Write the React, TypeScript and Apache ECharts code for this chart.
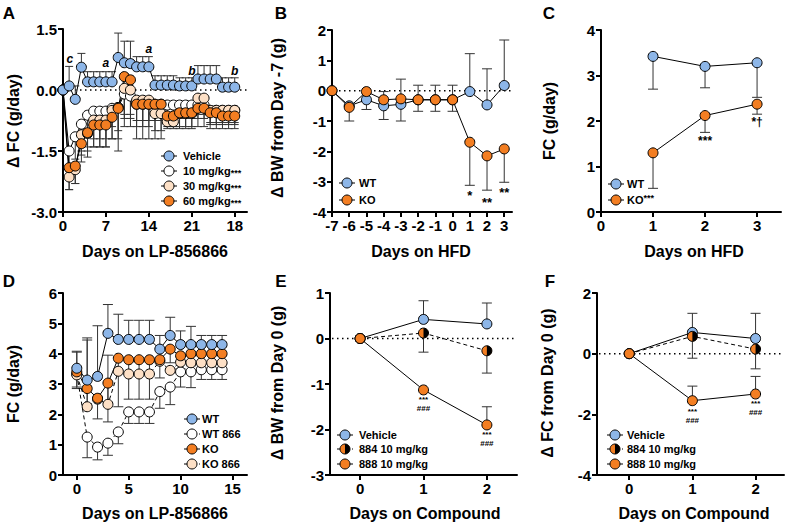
import React, { useEffect, useRef } from 'react';
import * as echarts from 'echarts';

const FONT = "'Liberation Sans', Arial, Helvetica, sans-serif";
const BLUE = '#8db6e8';
const ORANGE = '#f37e22';
const BEIGE = '#fde0c6';
const WHITE = '#ffffff';
const ERR = '#333333';

// ---------- Panel A ----------
const daysA = [0, 1, 2, 3, 4, 5, 6, 7, 8, 9, 10, 11, 12, 13, 14, 15, 16, 17, 18, 19, 20, 21, 22, 23, 24, 25, 26, 27, 28];
const ticksA = [0, 7, 14, 21, 28];
const tickLabelsA = ['0', '7', '14', '21', '18'];
const vehA = [0, 0.1, -0.23, 0.56, 0.2, 0.2, 0.2, 0.2, 0.2, 0.8, 0.67, 0.65, 0.57, 0.57, 0.57, 0.12, 0.12, 0.12, 0.12, 0.1, 0.1, 0.1, 0.27, 0.27, 0.27, 0.27, 0.07, 0.07, 0.07];
const vehAErr = [0, 0.58, 0.1, 0.9, 0.45, 0.45, 0.45, 0.45, 0.45, 1.4, 1.2, 1.2, 0.82, 0.82, 0.82, 0.35, 0.35, 0.35, 0.35, 0.3, 0.3, 0.3, 0.6, 0.6, 0.6, 0.6, 0.3, 0.3, 0.3];
const mg10A = [0, -1.5, -1.15, -0.84, -0.62, -0.52, -0.52, -0.52, -0.45, -0.43, -0.1, -0.15, -0.35, -0.35, -0.35, -0.35, -0.35, -0.37, -0.37, -0.37, -0.37, -0.37, -0.37, -0.37, -0.5, -0.5, -0.5, -0.5, -0.5];
const mg10AErr = [0, -2.0, -1.7, -1.5, -1.4, -1.4, -1.4, -1.4, -1.2, -1.2, -0.6, -0.6, -0.75, -0.75, -0.75, -0.75, -0.75, -0.7, -0.7, -0.7, -0.7, -0.7, -0.7, -0.7, -0.8, -0.8, -0.8, -0.8, -0.8];
const mg30A = [0, -2.14, -1.96, -1.1, -1.07, -0.74, -0.74, -0.74, -0.5, -0.43, 0.04, 0, -0.25, -0.25, -0.25, -0.58, -0.58, -0.78, -0.78, -0.58, -0.58, -0.58, -0.2, -0.2, -0.5, -0.5, -0.5, -0.5, -0.5];
const mg30AErr = [0, -2.45, -2.3, -1.6, -1.5, -1.2, -1.2, -1.2, -0.9, -1.0, -0.7, -0.7, -0.9, -0.9, -0.9, -1.0, -1.0, -0.9, -0.9, -0.9, -0.9, -0.9, -0.6, -0.6, -0.85, -0.85, -0.85, -0.85, -0.85];
const mg60A = [0, -1.91, -1.87, -1.32, -1.05, -0.86, -0.86, -0.86, -0.67, -0.45, 0.33, 0.25, -0.35, -0.35, -0.35, -0.35, -0.35, -0.64, -0.64, -0.56, -0.56, -0.56, -0.45, -0.45, -0.56, -0.56, -0.64, -0.64, -0.64];
const mg60AErr = [0, -2.45, -2.3, -1.77, -1.65, -1.4, -1.4, -1.4, -1.2, -1.5, -0.9, -0.9, -1.2, -1.2, -1.2, -1.2, -1.2, -0.95, -0.95, -0.95, -0.95, -0.95, -0.9, -0.9, -0.95, -0.95, -0.95, -0.95, -0.95];
const annA = [
  { x: 1.1, y: 0.77, t: 'c' },
  { x: 7, y: 0.67, t: 'a' },
  { x: 14, y: 1.0, t: 'a' },
  { x: 21, y: 0.47, t: 'b' },
  { x: 28, y: 0.47, t: 'b' },
];

// ---------- Panel B ----------
const daysB = [-7, -6, -5, -4, -3, -2, -1, 0, 1, 2, 3];
const wtB = [0, -0.5, -0.3, -0.5, -0.45, -0.3, -0.3, -0.3, -0.03, -0.47, 0.17];
const wtBErr = [0, -0.5, -0.3, -0.03, 0.38, 0.18, 0.18, 0.18, 1.22, 0.72, 1.67];
const koB = [0, -0.55, -0.03, -0.3, -0.27, -0.3, -0.3, -0.3, -1.7, -2.15, -1.92];
const koBErr = [0, -1.0, -0.62, -0.95, -1.0, -0.68, -0.68, -0.68, -3.12, -3.28, -3.02];
const annB = [
  { x: 1, y: -3.46, t: '*' },
  { x: 2, y: -3.69, t: '**' },
  { x: 3, y: -3.36, t: '**' },
];

// ---------- Panel C ----------
const daysC = [1, 2, 3];
const wtC = [3.42, 3.2, 3.28];
const wtCErr = [2.7, 2.73, 2.52];
const koC = [1.3, 2.12, 2.37];
const koCErr = [0.52, 1.75, 2.15];
const annC = [
  { x: 2, y: 1.56, t: '***' },
  { x: 3, y: 1.97, t: '*†' },
];

// ---------- Panel D ----------
const daysD = [0, 1, 2, 3, 4, 5, 6, 7, 8, 9, 10, 11, 12, 13, 14];
const wtD = [3.52, 3.13, 3.25, 4.67, 4.47, 4.47, 4.47, 4.47, 4.15, 4.6, 4.3, 4.3, 4.3, 4.3, 4.3];
const wtDErr = [4.08, 4.52, 4.92, 5.62, 5.3, 5.1, 5.1, 5.1, 4.6, 5.2, 4.75, 4.9, 4.6, 4.6, 4.6];
const wt866D = [3.33, 1.25, 0.92, 1.05, 1.42, 2.08, 2.08, 2.08, 2.75, 2.9, 3.4, 3.4, 3.47, 3.47, 3.47];
const wt866DErr = [2.85, 0.57, 0.5, 0.65, 1.03, 1.7, 1.7, 1.7, 2.2, 2.32, 2.9, 2.88, 3.15, 3.15, 3.15];
const koD = [3.4, 2.85, 2.53, 3.03, 3.85, 3.8, 3.8, 3.8, 3.8, 4.15, 3.93, 4.0, 4.0, 4.0, 4.0];
const koDErr = [2.9, 2.3, 1.85, 1.75, 2.25, 2.5, 2.5, 2.5, 3.2, 3.7, 3.5, 3.6, 3.7, 3.7, 3.7];
const ko866D = [3.3, 2.25, 2.5, 2.33, 3.42, 3.33, 3.33, 3.33, 3.75, 3.45, 3.72, 3.7, 3.7, 3.7, 3.7];
const ko866DErr = [4.05, 4.45, 2.5, 3.95, 3.42, 3.33, 3.33, 3.33, 3.75, 3.45, 3.72, 3.7, 3.7, 3.7, 3.7];

// ---------- Panel E ----------
const daysE = [0, 1, 2];
const vehE = [0, 0.42, 0.32];
const vehEErr = [0, 0.83, 0.78];
const c884E = [0, 0.12, -0.27];
const c884EErr = [0, -0.3, -0.76];
const c888E = [0, -1.13, -1.9];
const c888EErr = [0, -1.13, -1.5];
const annE = [
  { x: 1, y: -1.34, t: '***' },
  { x: 1, y: -1.54, t: '###' },
  { x: 2, y: -2.1, t: '***' },
  { x: 2, y: -2.3, t: '###' },
];

// ---------- Panel F ----------
const daysF = [0, 1, 2];
const vehF = [0, 0.7, 0.5];
const vehFErr = [0, 1.33, 1.33];
const c884F = [0, 0.57, 0.15];
const c884FErr = [0, -0.15, -0.5];
const c888F = [0, -1.55, -1.33];
const c888FErr = [0, -1.07, -0.75];
const annF = [
  { x: 1, y: -1.91, t: '***' },
  { x: 1, y: -2.21, t: '###' },
  { x: 2, y: -1.65, t: '***' },
  { x: 2, y: -1.95, t: '###' },
];

// ---------- helpers ----------
function lineS(gi: number, xs: number[], ys: number[], color: string, dashed = false, size = 10) {
  return {
    type: 'line',
    xAxisIndex: gi,
    yAxisIndex: gi,
    data: xs.map((x, i) => [x, ys[i]]),
    symbol: 'circle',
    symbolSize: size,
    showSymbol: true,
    showAllSymbol: true,
    lineStyle: { color: '#000', width: 1, type: dashed ? [4, 3] : 'solid' },
    itemStyle: { color, borderColor: '#000', borderWidth: 1, opacity: 1 },
    emphasis: { disabled: true },
    silent: true,
    z: 3,
  };
}

function errS(gi: number, xs: number[], ys: number[], ends: number[], cap = 4) {
  return {
    type: 'custom',
    xAxisIndex: gi,
    yAxisIndex: gi,
    coordinateSystem: 'cartesian2d',
    data: xs.map((x, i) => [x, ys[i], ends[i]]),
    silent: true,
    z: 1,
    renderItem: (params: any, api: any) => {
      const p = api.coord([api.value(0), api.value(1)]);
      const q = api.coord([api.value(0), api.value(2)]);
      if (Math.abs(p[1] - q[1]) < 0.5) return { type: 'group', children: [] };
      return {
        type: 'group',
        children: [
          { type: 'line', shape: { x1: p[0], y1: p[1], x2: q[0], y2: q[1] }, style: { stroke: ERR, lineWidth: 1 } },
          { type: 'line', shape: { x1: q[0] - cap, y1: q[1], x2: q[0] + cap, y2: q[1] }, style: { stroke: ERR, lineWidth: 1 } },
        ],
      };
    },
  };
}

function halfS(gi: number, xs: number[], ys: number[], r = 5) {
  return {
    type: 'custom',
    xAxisIndex: gi,
    yAxisIndex: gi,
    coordinateSystem: 'cartesian2d',
    data: xs.map((x, i) => [x, ys[i]]),
    silent: true,
    z: 4,
    renderItem: (params: any, api: any) => {
      const p = api.coord([api.value(0), api.value(1)]);
      return {
        type: 'sector',
        shape: { cx: p[0], cy: p[1], r0: 0, r, startAngle: -Math.PI / 2, endAngle: Math.PI / 2, clockwise: true },
        style: { fill: '#000' },
      };
    },
  };
}

function zeroS(gi: number, xmid: number) {
  return {
    type: 'custom',
    xAxisIndex: gi,
    yAxisIndex: gi,
    coordinateSystem: 'cartesian2d',
    data: [[xmid, 0]],
    silent: true,
    z: 0,
    renderItem: (params: any, api: any) => {
      const p = api.coord([api.value(0), api.value(1)]);
      const cs = params.coordSys;
      return {
        type: 'line',
        shape: { x1: cs.x + 2, y1: p[1], x2: cs.x + cs.width, y2: p[1] },
        style: { stroke: '#000', lineWidth: 1.5, lineDash: [1.5, 3.5] },
      };
    },
  };
}

function annS(gi: number, items: { x: number; y: number; t: string }[], size: number, italic = false) {
  return {
    type: 'custom',
    xAxisIndex: gi,
    yAxisIndex: gi,
    coordinateSystem: 'cartesian2d',
    data: items.map((a) => [a.x, a.y]),
    silent: true,
    z: 6,
    renderItem: (params: any, api: any) => {
      const p = api.coord([api.value(0), api.value(1)]);
      return {
        type: 'text',
        x: p[0],
        y: p[1],
        style: {
          text: items[params.dataIndex].t,
          textAlign: 'center',
          textVerticalAlign: 'middle',
          fontSize: size,
          fontWeight: 'bold',
          fontStyle: italic ? 'italic' : 'normal',
          fontFamily: FONT,
          fill: '#000',
        },
      };
    },
  };
}

function xAx(gi: number, min: number, max: number, ticks: number[], labels?: string[]) {
  const axisLabel: any = {
    customValues: ticks,
    color: '#000',
    fontSize: 15,
    fontWeight: 'bold',
    fontFamily: FONT,
    margin: 6,
  };
  if (labels) axisLabel.formatter = (v: number) => labels[ticks.indexOf(v)] ?? '';
  return {
    type: 'value',
    gridIndex: gi,
    min,
    max,
    splitLine: { show: false },
    axisLine: { show: true, onZero: false, lineStyle: { color: '#000', width: 2 } },
    axisTick: { show: true, length: 5, customValues: ticks, lineStyle: { color: '#000', width: 2 } },
    axisLabel,
  };
}

function yAx(gi: number, min: number, max: number, interval: number, fmt?: (v: number) => string) {
  const axisLabel: any = { color: '#000', fontSize: 15, fontWeight: 'bold', fontFamily: FONT, margin: 6 };
  if (fmt) axisLabel.formatter = fmt;
  return {
    type: 'value',
    gridIndex: gi,
    min,
    max,
    interval,
    splitLine: { show: false },
    axisLine: { show: true, onZero: false, lineStyle: { color: '#000', width: 2 } },
    axisTick: { show: true, length: 5, lineStyle: { color: '#000', width: 2 } },
    axisLabel,
  };
}

type LegItem = { t: string; c: string; s?: string; sup?: boolean; half?: boolean; dashed?: boolean };
function legend(mx: number, tx: number, ys: number[], items: LegItem[]) {
  const els: any[] = [];
  items.forEach((it, i) => {
    const y = ys[i];
    els.push({ type: 'line', silent: true, shape: { x1: mx - 8, y1: y, x2: mx + 8, y2: y }, style: { stroke: '#000', lineWidth: 1, lineDash: it.dashed ? [3, 2] : null } });
    els.push({ type: 'circle', silent: true, shape: { cx: mx, cy: y, r: 5 }, style: { fill: it.c, stroke: '#000', lineWidth: 1 } });
    if (it.half) {
      els.push({ type: 'sector', silent: true, shape: { cx: mx, cy: y, r0: 0, r: 5, startAngle: -Math.PI / 2, endAngle: Math.PI / 2, clockwise: true }, style: { fill: '#000' } });
    }
    const text = it.s ? `{a|${it.t}}{s|${it.s}}` : `{a|${it.t}}`;
    els.push({
      type: 'text',
      silent: true,
      x: tx,
      y,
      style: {
        text,
        textAlign: 'left',
        textVerticalAlign: 'middle',
        fill: '#000',
        rich: {
          a: { fontSize: 11, fontWeight: 'bold', fontFamily: FONT, fill: '#000', lineHeight: 13 },
          s: { fontSize: 9, fontWeight: 'bold', fontFamily: FONT, fill: '#000', lineHeight: 13, verticalAlign: it.sup ? 'top' : 'bottom' },
        },
      },
    });
  });
  return els;
}

function txt(x: number, y: number, t: string, size: number, rot = 0) {
  return {
    type: 'text',
    silent: true,
    x,
    y,
    rotation: rot,
    style: { text: t, textAlign: 'center', textVerticalAlign: 'middle', fontSize: size, fontWeight: 'bold', fontFamily: FONT, fill: '#000' },
  };
}

function buildOption() {
  const grids = [
    { left: 63, top: 29, width: 184, height: 183 },
    { left: 332, top: 30, width: 180, height: 182 },
    { left: 601, top: 30, width: 180, height: 182 },
    { left: 63, top: 293, width: 184, height: 182 },
    { left: 330, top: 293, width: 187, height: 182 },
    { left: 597, top: 293, width: 187, height: 182 },
  ];
  const xAxis = [
    xAx(0, 0, 30, ticksA, tickLabelsA),
    xAx(1, -7, 3.45, daysB),
    xAx(2, 0, 3.46, [0, 1, 2, 3]),
    xAx(3, -1.33, 16.4, [0, 5, 10, 15]),
    xAx(4, -0.475, 2.475, [0, 1, 2]),
    xAx(5, -0.51, 2.45, [0, 1, 2]),
  ];
  const yAxis = [
    yAx(0, -3, 1.5, 1.5, (v) => v.toFixed(1)),
    yAx(1, -4, 2, 1),
    yAx(2, 0, 4, 1),
    yAx(3, 0, 6, 1),
    yAx(4, -3, 1, 1),
    yAx(5, -4, 2, 2),
  ];
  const series: any[] = [
    // A
    zeroS(0, 15),
    errS(0, daysA, vehA, vehAErr, 4),
    errS(0, daysA, mg10A, mg10AErr, 4),
    errS(0, daysA, mg30A, mg30AErr, 4),
    errS(0, daysA, mg60A, mg60AErr, 4),
    lineS(0, daysA, mg10A, WHITE, false, 10),
    lineS(0, daysA, mg30A, BEIGE, false, 10),
    lineS(0, daysA, mg60A, ORANGE, false, 10),
    lineS(0, daysA, vehA, BLUE, false, 10),
    annS(0, annA, 12, true),
    // B
    zeroS(1, -2),
    errS(1, daysB, wtB, wtBErr, 5),
    errS(1, daysB, koB, koBErr, 5),
    lineS(1, daysB, wtB, BLUE),
    lineS(1, daysB, koB, ORANGE),
    annS(1, annB, 13),
    // C
    errS(2, daysC, wtC, wtCErr, 5),
    errS(2, daysC, koC, koCErr, 5),
    lineS(2, daysC, wtC, BLUE),
    lineS(2, daysC, koC, ORANGE),
    annS(2, annC, 12),
    // D
    errS(3, daysD, wtD, wtDErr, 5),
    errS(3, daysD, wt866D, wt866DErr, 5),
    errS(3, daysD, koD, koDErr, 5),
    errS(3, daysD, ko866D, ko866DErr, 5),
    lineS(3, daysD, wt866D, WHITE, true),
    lineS(3, daysD, ko866D, BEIGE, true),
    lineS(3, daysD, koD, ORANGE),
    lineS(3, daysD, wtD, BLUE),
    // E
    zeroS(4, 1),
    errS(4, daysE, vehE, vehEErr, 5),
    errS(4, daysE, c884E, c884EErr, 5),
    errS(4, daysE, c888E, c888EErr, 5),
    lineS(4, daysE, vehE, BLUE),
    lineS(4, daysE, c888E, ORANGE),
    lineS(4, daysE, c884E, ORANGE, true),
    halfS(4, daysE.slice(1), c884E.slice(1)),
    annS(4, annE, 8),
    // F
    zeroS(5, 1),
    errS(5, daysF, vehF, vehFErr, 5),
    errS(5, daysF, c884F, c884FErr, 5),
    errS(5, daysF, c888F, c888FErr, 5),
    lineS(5, daysF, vehF, BLUE),
    lineS(5, daysF, c888F, ORANGE),
    lineS(5, daysF, c884F, ORANGE, true),
    halfS(5, daysF.slice(1), c884F.slice(1)),
    annS(5, annF, 8),
  ];

  const graphic: any[] = [
    // panel letters
    txt(9, 13, 'A', 17),
    txt(281, 13, 'B', 17),
    txt(549, 13, 'C', 17),
    txt(9, 281, 'D', 17),
    txt(281, 281, 'E', 17),
    txt(550, 281, 'F', 17),
    // y titles
    txt(13, 121, 'Δ FC (g/day)', 16, Math.PI / 2),
    txt(277, 118, 'Δ BW from Day -7 (g)', 16, Math.PI / 2),
    txt(549, 121, 'FC (g/day)', 16, Math.PI / 2),
    txt(13, 384, 'FC (g/day)', 16, Math.PI / 2),
    txt(277, 383, 'Δ BW from Day 0 (g)', 16, Math.PI / 2),
    txt(547, 383, 'Δ FC from Day 0 (g)', 16, Math.PI / 2),
    // x titles
    txt(155, 251, 'Days on LP-856866', 16),
    txt(421, 251, 'Days on HFD', 16),
    txt(694, 251, 'Days on HFD', 16),
    txt(155, 513, 'Days on LP-856866', 16),
    txt(425, 513, 'Days on Compound', 16),
    txt(694, 513, 'Days on Compound', 16),
    // legends
    ...legend(169, 183, [156, 171, 186, 201], [
      { t: 'Vehicle', c: BLUE },
      { t: '10 mg/kg', c: WHITE, s: '***' },
      { t: '30 mg/kg', c: BEIGE, s: '***' },
      { t: '60 mg/kg', c: ORANGE, s: '***' },
    ]),
    ...legend(347, 359, [183, 200], [
      { t: 'WT', c: BLUE },
      { t: 'KO', c: ORANGE },
    ]),
    ...legend(616, 627, [184, 200], [
      { t: 'WT', c: BLUE },
      { t: 'KO', c: ORANGE, s: '***', sup: true },
    ]),
    ...legend(192, 202, [419, 434, 449, 464], [
      { t: 'WT', c: BLUE },
      { t: 'WT 866', c: WHITE, dashed: true },
      { t: 'KO', c: ORANGE },
      { t: 'KO 866', c: BEIGE, dashed: true },
    ]),
    ...legend(345, 359, [435, 449, 464], [
      { t: 'Vehicle', c: BLUE },
      { t: '884 10 mg/kg', c: ORANGE, half: true, dashed: true },
      { t: '888 10 mg/kg', c: ORANGE },
    ]),
    ...legend(615, 627, [435, 449, 464], [
      { t: 'Vehicle', c: BLUE },
      { t: '884 10 mg/kg', c: ORANGE, half: true, dashed: true },
      { t: '888 10 mg/kg', c: ORANGE },
    ]),
  ];

  return {
    animation: false,
    backgroundColor: '#ffffff',
    textStyle: { fontFamily: FONT },
    grid: grids,
    xAxis,
    yAxis,
    series,
    graphic,
  };
}

export default function App() {
  const ref = useRef<HTMLDivElement>(null);
  useEffect(() => {
    if (!ref.current) return;
    const chart = echarts.init(ref.current, null, { renderer: 'svg' });
    chart.setOption(buildOption() as any);
    return () => chart.dispose();
  }, []);
  return (
    <div
      ref={ref}
      style={{ position: 'fixed', left: 0, top: 0, width: 785, height: 524, background: '#fff' }}
    />
  );
}
